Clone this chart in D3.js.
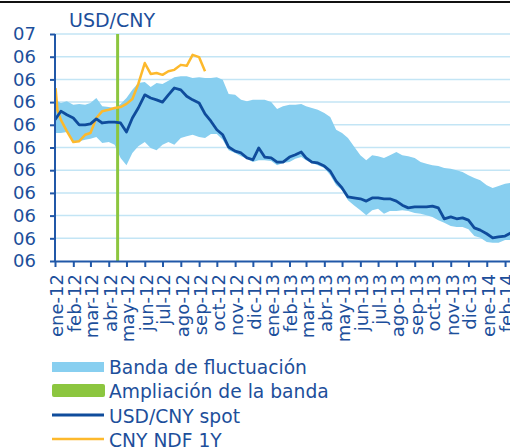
<!DOCTYPE html>
<html>
<head>
<meta charset="utf-8">
<script src="https://cdn.jsdelivr.net/npm/d3@7"></script>
<style>
  html, body { margin: 0; padding: 0; background: #fff; }
  svg { display: block; font-family: "DejaVu Sans", sans-serif; }
</style>
</head>
<body>
<div id="chart"></div>
<script>
// Dates for band and spot (1st, 11th, 21st of each month)
const bandDates = [
  "2012-01-01","2012-01-11","2012-01-21","2012-02-01","2012-02-11","2012-02-21",
  "2012-03-01","2012-03-11","2012-03-21","2012-04-01","2012-04-11","2012-04-21",
  "2012-05-01","2012-05-11","2012-05-21","2012-06-01","2012-06-11","2012-06-21",
  "2012-07-01","2012-07-11","2012-07-21","2012-08-01","2012-08-11","2012-08-21",
  "2012-09-01","2012-09-11","2012-09-21","2012-10-01","2012-10-11","2012-10-21",
  "2012-11-01","2012-11-11","2012-11-21","2012-12-01","2012-12-11","2012-12-21",
  "2013-01-01","2013-01-11","2013-01-21","2013-02-01","2013-02-11","2013-02-21",
  "2013-03-01","2013-03-11","2013-03-21","2013-04-01","2013-04-11","2013-04-21",
  "2013-05-01","2013-05-11","2013-05-21","2013-06-01","2013-06-11","2013-06-21",
  "2013-07-01","2013-07-11","2013-07-21","2013-08-01","2013-08-11","2013-08-21",
  "2013-09-01","2013-09-11","2013-09-21","2013-10-01","2013-10-11","2013-10-21",
  "2013-11-01","2013-11-11","2013-11-21","2013-12-01","2013-12-11","2013-12-21",
  "2014-01-01","2014-01-11","2014-01-21","2014-02-01","2014-02-11"
];

// Upper / lower limit of the fluctuation band
const bandUpper = [
  6.355,6.348,6.352, 6.344,6.346,6.344, 6.348,6.359,6.341, 6.339,6.337,6.346,
  6.359,6.377,6.392, 6.394,6.383,6.392, 6.390,6.397,6.405, 6.407,6.407,6.403,
  6.405,6.403,6.403, 6.405,6.399,6.368, 6.366,6.355,6.352, 6.355,6.355,6.355,
  6.350,6.335,6.341, 6.344,6.344,6.346, 6.341,6.337,6.333, 6.326,6.317,6.289,
  6.282,6.271,6.253, 6.233,6.222,6.233, 6.231,6.227,6.233, 6.240,6.233,6.231,
  6.227,6.218,6.214, 6.211,6.209,6.205, 6.203,6.200,6.196, 6.189,6.183,6.178,
  6.167,6.161,6.165, 6.170,6.172
];
const bandLower = [
  6.282,6.282,6.284, 6.262,6.264,6.267, 6.269,6.273,6.260, 6.262,6.256,6.227,
  6.211,6.238,6.253, 6.262,6.249,6.244, 6.256,6.262,6.256, 6.271,6.275,6.278,
  6.273,6.271,6.280, 6.280,6.267,6.244, 6.238,6.231,6.225, 6.218,6.222,6.222,
  6.220,6.211,6.216, 6.218,6.225,6.229, 6.222,6.216,6.211, 6.205,6.189,6.167,
  6.156,6.134,6.123, 6.112,6.101,6.112, 6.115,6.104,6.110, 6.110,6.112,6.110,
  6.106,6.104,6.101, 6.097,6.090,6.084, 6.077,6.075,6.075, 6.070,6.055,6.051,
  6.042,6.040,6.040, 6.046,6.046
];

// USD/CNY spot
const spotValues = [
  6.311,6.330,6.322, 6.315,6.300,6.300, 6.302,6.313,6.304, 6.306,6.306,6.304,
  6.284,6.315,6.337, 6.366,6.359,6.355, 6.350,6.366,6.381, 6.377,6.363,6.355,
  6.348,6.324,6.308, 6.289,6.278,6.251, 6.242,6.238,6.227, 6.223,6.249,6.229,
  6.227,6.218,6.218, 6.229,6.234,6.240, 6.227,6.218,6.216, 6.209,6.198,6.176,
  6.161,6.141,6.139, 6.137,6.132,6.139, 6.139,6.137,6.137, 6.132,6.123,6.117,
  6.119,6.119,6.119, 6.121,6.117,6.093, 6.097,6.093,6.095, 6.090,6.073,6.068,
  6.060,6.051,6.053, 6.055,6.062
];

// CNY NDF 1Y
const ndfDates = [
  "2012-01-02","2012-01-05","2012-01-11","2012-01-21","2012-02-01","2012-02-11","2012-02-21",
  "2012-03-01","2012-03-11","2012-03-21","2012-04-01","2012-04-11","2012-04-21",
  "2012-05-01","2012-05-11","2012-05-21","2012-06-01","2012-06-11","2012-06-21",
  "2012-07-01","2012-07-11","2012-07-21","2012-08-01","2012-08-11","2012-08-21",
  "2012-09-01","2012-09-11"
];
const ndfValues = [
  6.381,6.333,6.311,6.286, 6.262,6.264,6.278, 6.282,6.315,6.330, 6.333,6.337,6.339,
  6.346,6.357,6.390, 6.436,6.412,6.414, 6.410,6.418,6.421, 6.432,6.430,6.454,
  6.449,6.418
];

// Band widening date
const wideningDate = "2012-04-16";

// Axis ticks
const yTicks = [6.00, 6.05, 6.10, 6.15, 6.20, 6.25, 6.30, 6.35, 6.40, 6.45, 6.50];
const yTickLabels = ["06","06","06","06","06","06","06","06","06","06","07"];
const monthLabels = ["ene","feb","mar","abr","may","jun","jul","ago","sep","oct","nov","dic"];

const legendItems = [
  { label: "Banda de fluctuación", type: "band" },
  { label: "Ampliación de la banda", type: "widen" },
  { label: "USD/CNY spot", type: "spot" },
  { label: "CNY NDF 1Y", type: "ndf" }
];

const colors = {
  band: "#88cff0",
  widen: "#8cc63f",
  spot: "#0f4c9c",
  ndf: "#fdb92c",
  text: "#1d4f9b",
  axis: "#2158a8",
  grid: "#c3e5f5"
};

const width = 510;
const height = 448;
const parse = d3.timeParse("%Y-%m-%d");

const svg = d3.select("#chart")
  .append("svg")
  .attr("width", width)
  .attr("height", height);

const x = d3.scaleTime()
  .domain([parse("2012-01-01"), parse("2014-03-01")])
  .range([55, 521.6]);

const y = d3.scaleLinear()
  .domain([6.00, 6.50])
  .range([261, 34]);

// top rule
svg.append("rect")
  .attr("x", 0).attr("y", 1)
  .attr("width", width).attr("height", 2)
  .attr("fill", "#111");

// title
svg.append("text")
  .attr("x", 69).attr("y", 27)
  .attr("font-size", 19)
  .attr("fill", colors.text)
  .text("USD/CNY");

// gridlines
svg.append("g")
  .selectAll("line")
  .data(yTicks.slice(1))
  .enter()
  .append("line")
  .attr("x1", 55).attr("x2", width)
  .attr("y1", d => y(d)).attr("y2", d => y(d))
  .attr("stroke", colors.grid)
  .attr("stroke-width", 1.5);

// band
const band = bandDates.map((d, i) => ({ date: parse(d), hi: bandUpper[i], lo: bandLower[i] }));
svg.append("path")
  .datum(band)
  .attr("fill", colors.band)
  .attr("d", d3.area()
    .x(d => x(d.date))
    .y0(d => y(d.lo))
    .y1(d => y(d.hi)));

// band widening marker
svg.append("line")
  .attr("x1", x(parse(wideningDate))).attr("x2", x(parse(wideningDate)))
  .attr("y1", y(6.50)).attr("y2", y(6.00))
  .attr("stroke", colors.widen)
  .attr("stroke-width", 3);

// NDF line
const ndf = ndfDates.map((d, i) => ({ date: parse(d), v: ndfValues[i] }));
svg.append("path")
  .datum(ndf)
  .attr("fill", "none")
  .attr("stroke", colors.ndf)
  .attr("stroke-width", 2.5)
  .attr("stroke-linejoin", "round")
  .attr("d", d3.line().x(d => x(d.date)).y(d => y(d.v)));

// spot line
const spot = bandDates.map((d, i) => ({ date: parse(d), v: spotValues[i] }));
svg.append("path")
  .datum(spot)
  .attr("fill", "none")
  .attr("stroke", colors.spot)
  .attr("stroke-width", 2.8)
  .attr("stroke-linejoin", "round")
  .attr("d", d3.line().x(d => x(d.date)).y(d => y(d.v)));

// y axis
const yAxis = svg.append("g")
  .attr("transform", "translate(55,0)")
  .call(d3.axisLeft(y)
    .tickValues(yTicks)
    .tickSize(5)
    .tickPadding(14)
    .tickFormat((d, i) => yTickLabels[i]));
yAxis.selectAll("path, line").attr("stroke", colors.axis).attr("stroke-width", 2);
yAxis.select(".domain").attr("d", "M0,34V261");
yAxis.selectAll("text")
  .attr("font-size", 18)
  .attr("font-family", "DejaVu Sans, sans-serif")
  .attr("fill", colors.text);

// x axis
const monthTicks = d3.timeMonth.range(parse("2012-01-01"), parse("2014-03-01"));
const xAxis = svg.append("g")
  .attr("transform", "translate(0,261)")
  .call(d3.axisBottom(x)
    .tickValues(monthTicks)
    .tickSize(6)
    .tickSizeOuter(0)
    .tickFormat(d => monthLabels[d.getMonth()] + "-" + d3.timeFormat("%y")(d)));
xAxis.selectAll("path, line").attr("stroke", colors.axis).attr("stroke-width", 2);
xAxis.selectAll("text")
  .attr("font-size", 18)
  .attr("font-family", "DejaVu Sans, sans-serif")
  .attr("fill", colors.text)
  .attr("text-anchor", "end")
  .attr("transform", "translate(7.5,13) rotate(-90)")
  .attr("x", 0).attr("y", 0).attr("dy", 0);

// legend
const legend = svg.append("g");
const rowY = [374, 398, 423, 447];
legendItems.forEach((item, i) => {
  const g = legend.append("g");
  if (item.type === "band") {
    g.append("rect").attr("x", 52).attr("y", rowY[i] - 12).attr("width", 52).attr("height", 10)
      .attr("fill", colors.band);
  } else if (item.type === "widen") {
    g.append("rect").attr("x", 52).attr("y", rowY[i] - 14).attr("width", 53).attr("height", 13)
      .attr("rx", 2).attr("fill", colors.widen);
  } else {
    g.append("line").attr("x1", 52).attr("x2", 104)
      .attr("y1", rowY[i] - 8).attr("y2", rowY[i] - 8)
      .attr("stroke", colors[item.type]).attr("stroke-width", item.type === "spot" ? 3 : 2.5);
  }
  g.append("text")
    .attr("x", 109).attr("y", rowY[i])
    .attr("font-size", 18.7)
    .attr("fill", colors.text)
    .text(item.label);
});
</script>
</body>
</html>
